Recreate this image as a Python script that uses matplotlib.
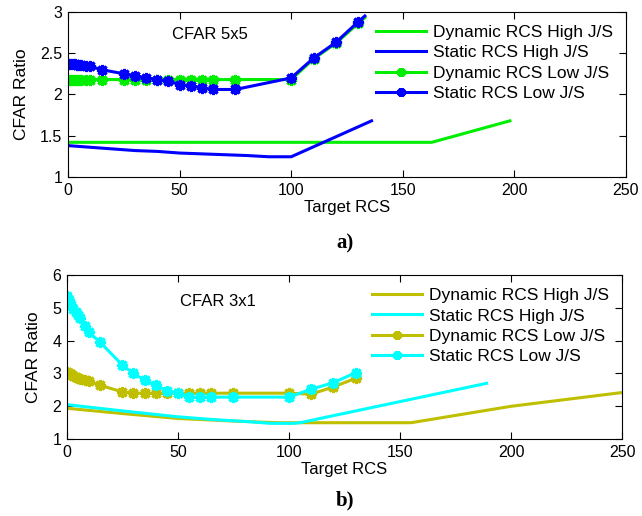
import matplotlib
matplotlib.use("Agg")
import matplotlib.pyplot as plt

plt.rcParams['font.family'] = ['Liberation Sans', 'DejaVu Sans']

# ---- CFAR 5x5 ----
x_dyn_high_a = [0, 163, 198]
y_dyn_high_a = [1.42, 1.42, 1.68]

x_sta_high_a = [0, 10, 20, 30, 40, 50, 60, 70, 80, 90, 100, 136]
y_sta_high_a = [1.38, 1.36, 1.34, 1.32, 1.31, 1.29, 1.28, 1.27, 1.26, 1.245, 1.245, 1.68]

x_low_a = [0, 1, 2, 3, 4, 5, 6, 8, 10, 15, 25, 30, 35, 40, 45, 50, 55, 60, 65, 75, 100, 110, 120, 130, 133]
y_dyn_low_a = [2.18] * 21 + [2.43, 2.62, 2.86, 2.93]
y_sta_low_a = [2.37, 2.37, 2.37, 2.37, 2.36, 2.36, 2.36, 2.35, 2.34, 2.30, 2.25, 2.22, 2.20,
               2.18, 2.16, 2.12, 2.10, 2.08, 2.06, 2.06, 2.20, 2.44, 2.63, 2.88, 2.95]

# ---- CFAR 3x1 ----
x_dyn_high_b = [0, 25, 50, 75, 95, 155, 200, 250]
y_dyn_high_b = [1.94, 1.78, 1.63, 1.55, 1.50, 1.50, 2.00, 2.42]

x_sta_high_b = [0, 25, 50, 65, 82, 92, 102, 105, 189]
y_sta_high_b = [2.05, 1.86, 1.68, 1.60, 1.53, 1.48, 1.48, 1.50, 2.70]

x_low_b = [0, 1, 2, 3, 4, 5, 6, 8, 10, 15, 25, 30, 35, 40, 45, 50, 55, 60, 65, 75, 100, 110, 120, 130]
y_dyn_low_b = [3.05, 3.00, 2.97, 2.93, 2.90, 2.86, 2.84, 2.80, 2.76, 2.64, 2.44, 2.40, 2.40,
               2.40, 2.40, 2.40, 2.40, 2.40, 2.40, 2.40, 2.40, 2.37, 2.59, 2.85]
y_sta_low_b = [5.35, 5.25, 5.10, 4.98, 4.88, 4.78, 4.68, 4.45, 4.25, 3.95, 3.26, 3.00, 2.80,
               2.64, 2.48, 2.40, 2.28, 2.28, 2.28, 2.28, 2.28, 2.52, 2.72, 3.02]

labels = ['Dynamic RCS High J/S', 'Static RCS High J/S',
          'Dynamic RCS Low J/S', 'Static RCS Low J/S']

green = '#00ee00'
blue = '#0000ff'
olive = '#bfbf00'
cyan = '#00ffff'

fig = plt.figure(figsize=(6.42, 5.16), dpi=100)
ax1 = fig.add_axes([0.106, 0.657, 0.869, 0.320])
ax2 = fig.add_axes([0.104, 0.149, 0.865, 0.318])

lw = 2.2
# asterisk-style markers, thick strokes
mk = dict(marker=(8, 2, 0), markersize=8, markeredgewidth=2.2)

ax1.plot(x_dyn_high_a, y_dyn_high_a, color=green, lw=lw, label=labels[0])
ax1.plot(x_sta_high_a, y_sta_high_a, color=blue, lw=lw, label=labels[1])
ax1.plot(x_low_a, y_dyn_low_a, color=green, lw=lw, markevery=slice(0, -1), label=labels[2], **mk)
ax1.plot(x_low_a, y_sta_low_a, color=blue, lw=lw, markevery=slice(0, -1), label=labels[3], **mk)
ax1.set_ylim(1, 3)
ax1.set_yticks([1, 1.5, 2, 2.5, 3])
ax1.set_yticklabels(['1', '1.5', '2', '2.5', '3'])
ax1.text(63.5, 2.72, 'CFAR 5x5', fontsize=12, ha='center', va='center')

ax2.plot(x_dyn_high_b, y_dyn_high_b, color=olive, lw=lw, label=labels[0])
ax2.plot(x_sta_high_b, y_sta_high_b, color=cyan, lw=lw, label=labels[1])
ax2.plot(x_low_b, y_dyn_low_b, color=olive, lw=lw, label=labels[2], **mk)
ax2.plot(x_low_b, y_sta_low_b, color=cyan, lw=lw, label=labels[3], **mk)
ax2.set_ylim(1, 6)
ax2.set_yticks([1, 2, 3, 4, 5, 6])
ax2.text(68, 5.18, 'CFAR 3x1', fontsize=12, ha='center', va='center')

for ax in (ax1, ax2):
    ax.set_xlim(0, 250)
    ax.set_xticks([0, 50, 100, 150, 200, 250])
    ax.tick_params(direction='in', top=True, right=True, labelsize=11.5, length=5, pad=4)
    ax.set_xlabel('Target RCS', fontsize=12, labelpad=2)
    ax.set_ylabel('CFAR Ratio', fontsize=12.5, labelpad=8)
    leg = ax.legend(loc='upper right', frameon=False, fontsize=12.5, handlelength=2.9,
                    labelspacing=0.3, borderaxespad=0.35, handletextpad=0.4,
                    markerscale=0.8)

fig.text(0.537, 0.528, 'a)', fontsize=15, fontweight='bold', family='Liberation Serif',
         ha='center', va='center')
fig.text(0.537, 0.031, 'b)', fontsize=15, fontweight='bold', family='Liberation Serif',
         ha='center', va='center')

fig.savefig('out.png', dpi=100)
